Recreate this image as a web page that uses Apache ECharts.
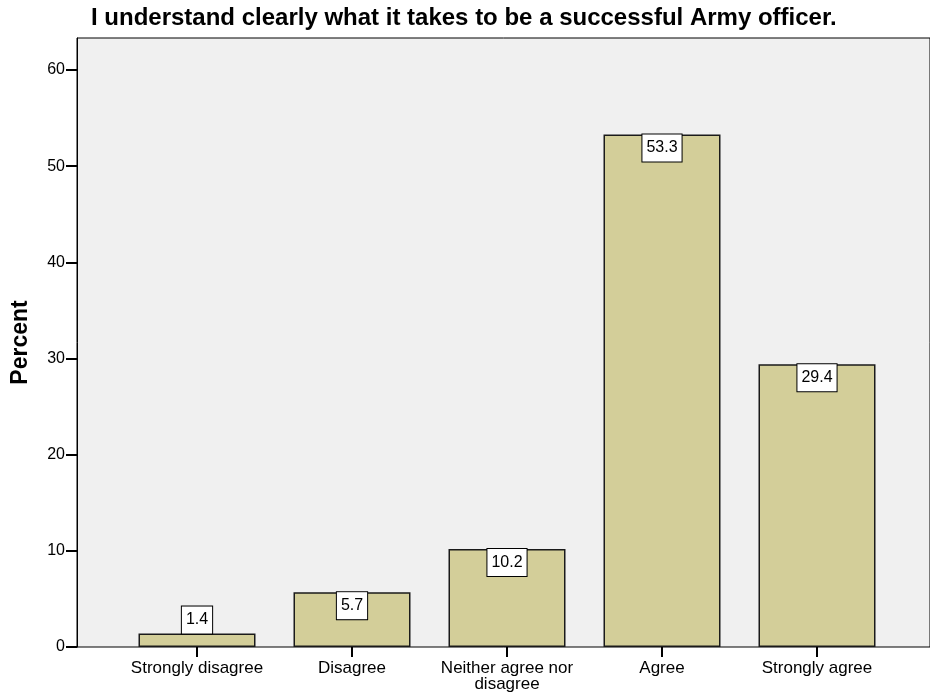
<!DOCTYPE html>
<html>
<head>
<meta charset="utf-8">
<script src="https://cdn.jsdelivr.net/npm/echarts@6/dist/echarts.min.js"></script>
<style>
html,body{margin:0;padding:0;background:#fff;}
#c{width:930px;height:696px;}
</style>
</head>
<body>
<div id="c"></div>
<script>
var categories = ['Strongly disagree', 'Disagree', 'Neither agree nor\ndisagree', 'Agree', 'Strongly agree'];
var percentValues = [1.4, 5.7, 10.2, 53.3, 29.4];
var yTickLabels = [0, 10, 20, 30, 40, 50, 60];

var FONT = '"Liberation Sans", Arial, Helvetica, sans-serif';
var Y_MAX = 63.33;

var chart = echarts.init(document.getElementById('c'), null, {renderer: 'canvas'});

var barData = percentValues.map(function (v, i) {
  var item = {value: v};
  if (v < 4) {
    item.label = {position: 'top', distance: 0};
  }
  return item;
});

chart.setOption({
  animation: false,
  backgroundColor: '#ffffff',
  title: {
    text: 'I understand clearly what it takes to be a successful Army officer.',
    left: 91,
    top: 6,
    padding: 0,
    textStyle: {fontFamily: FONT, fontSize: 24, fontWeight: 'bold', color: '#000'}
  },
  grid: [
    {left: 77, top: 38, width: 860, height: 609, show: true, backgroundColor: '#f0f0f0', borderColor: '#000', borderWidth: 1, containLabel: false},
    {left: 119.5, top: 38, width: 775, height: 609, containLabel: false}
  ],
  xAxis: [
    {gridIndex: 0, type: 'value', min: 0, max: 1, show: false},
    {
      gridIndex: 1, type: 'category', data: categories,
      axisLine: {show: false},
      axisTick: {show: true, alignWithLabel: true, length: 10, lineStyle: {color: '#000', width: 2}},
      axisLabel: {interval: 0, fontFamily: FONT, fontSize: 17, color: '#000', margin: 13, lineHeight: 16},
      splitLine: {show: false}
    }
  ],
  yAxis: [
    {
      gridIndex: 0, type: 'value', min: 0, max: Y_MAX,
      name: 'Percent', nameLocation: 'middle', nameGap: 45,
      nameTextStyle: {fontFamily: FONT, fontSize: 23, fontWeight: 'bold', color: '#000'},
      axisLine: {show: true, lineStyle: {color: '#000', width: 1}},
      axisTick: {show: true, length: 11, customValues: yTickLabels, lineStyle: {color: '#000', width: 2}},
      axisLabel: {customValues: yTickLabels, fontFamily: FONT, fontSize: 16, color: '#000', margin: 12},
      splitLine: {show: false}
    },
    {gridIndex: 1, type: 'value', min: 0, max: Y_MAX, show: false, splitLine: {show: false}}
  ],
  series: [{
    type: 'bar',
    xAxisIndex: 1,
    yAxisIndex: 1,
    data: barData,
    barWidth: 117,
    itemStyle: {color: '#d3ce99', borderColor: '#1a1a1a', borderWidth: 1.5},
    label: {
      show: true,
      position: 'insideTop',
      distance: 0,
      fontFamily: FONT,
      fontSize: 16,
      lineHeight: 19,
      color: '#000',
      backgroundColor: '#ffffff',
      borderColor: '#000',
      borderWidth: 1,
      padding: [4, 4, 4, 4],
      formatter: function (p) { return p.value.toFixed(1); }
    }
  }]
});
</script>
</body>
</html>
